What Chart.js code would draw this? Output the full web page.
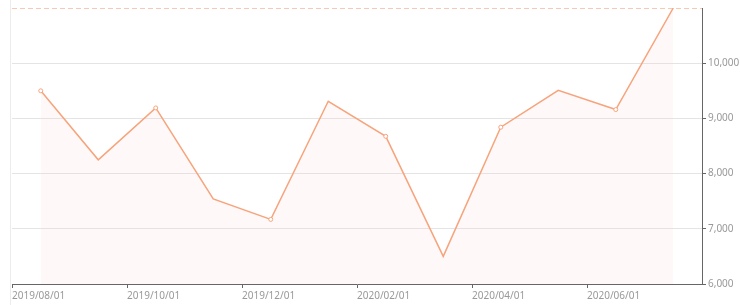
<!DOCTYPE html>
<html>
<head>
<meta charset="utf-8">
<script src="https://cdn.jsdelivr.net/npm/chart.js@4/dist/chart.umd.min.js"></script>
<style>
  html, body { margin: 0; padding: 0; background: #fff; }
  #wrap { position: relative; width: 740px; height: 305px; overflow: hidden; }
  #edge { position: absolute; left: 10px; top: 0; width: 1px; height: 305px; background: #ececec; }
  canvas { position: absolute; left: 0; top: 0; }
</style>
</head>
<body>
<div id="wrap">
  <div id="edge"></div>
  <canvas id="chart" width="740" height="305"></canvas>
</div>
<script>
// monthly values, Aug 2019 .. Jul 2020
const months = ['2019/08/01', '2019/09/01', '2019/10/01', '2019/11/01', '2019/12/01', '2020/01/01',
                '2020/02/01', '2020/03/01', '2020/04/01', '2020/05/01', '2020/06/01', '2020/07/01'];
const values = [9500, 8250, 9190, 7540, 7170, 9310, 8675, 6500, 8840, 9510, 9160, 11000];
const tickLabels = ['2019/08/01', '2019/10/01', '2019/12/01', '2020/02/01', '2020/04/01', '2020/06/01'];
const yTicks = [6000, 7000, 8000, 9000, 10000, 11000];

const lineColor = '#f6a47c';
const maxValue = Math.max(...values);

document.addEventListener('DOMContentLoaded', function () {
    const ctx = document.getElementById('chart').getContext('2d');

    const points = values.map((v, i) => ({ x: i + 0.5, y: v }));

    new Chart(ctx, {
        type: 'line',
        data: {
            datasets: [{
                label: 'value',
                data: points,
                borderColor: lineColor,
                borderWidth: 1.5,
                backgroundColor: 'rgba(255, 205, 205, 0.15)',
                fill: 'start',
                tension: 0,
                pointRadius: ctx => ctx.dataIndex % 2 === 0 && ctx.dataIndex < values.length - 1 ? 2 : 0,
                pointBorderWidth: 1,
                pointBackgroundColor: '#fff',
                pointBorderColor: lineColor
            }, {
                // max mark line
                label: 'max',
                data: [{ x: 0, y: maxValue }, { x: months.length, y: maxValue }],
                borderColor: '#f8b796',
                borderWidth: 1.5,
                borderDash: [5, 3],
                pointRadius: 0,
                fill: false
            }]
        },
        options: {
            responsive: false,
            animation: false,
            layout: { autoPadding: false, padding: { left: 12, top: 5, right: 0, bottom: 0 } },
            plugins: { legend: { display: false }, tooltip: { enabled: false } },
            scales: {
                x: {
                    type: 'linear',
                    min: 0,
                    max: months.length,
                    afterBuildTicks: scale => {
                        scale.ticks = tickLabels.map((t, i) => ({ value: i * 2 }));
                    },
                    ticks: {
                        autoSkip: false,
                        maxRotation: 0,
                        align: 'start',
                        padding: 2,
                        color: '#999',
                        font: { family: 'Noto Sans', size: 10 },
                        callback: v => tickLabels[v / 2]
                    },
                    grid: { display: true, drawOnChartArea: false, tickLength: 4, tickColor: '#666' },
                    border: { color: '#666', width: 1 },
                    afterFit: scale => { scale.height = 21; }
                },
                y: {
                    position: 'right',
                    min: yTicks[0],
                    max: yTicks[yTicks.length - 1],
                    afterBuildTicks: scale => {
                        scale.ticks = yTicks.map(v => ({ value: v }));
                    },
                    ticks: {
                        padding: 2,
                        color: '#999',
                        font: { family: 'Noto Sans', size: 10 },
                        // top label is cut off in the original
                        callback: v => v === yTicks[yTicks.length - 1] ? null : v.toLocaleString('en-US')
                    },
                    grid: { color: '#e4e4e4', tickLength: 4, tickColor: '#666' },
                    border: { color: '#666', width: 1 },
                    afterFit: scale => { scale.width = 38; }
                }
            }
        }
    });
});
</script>
</body>
</html>
